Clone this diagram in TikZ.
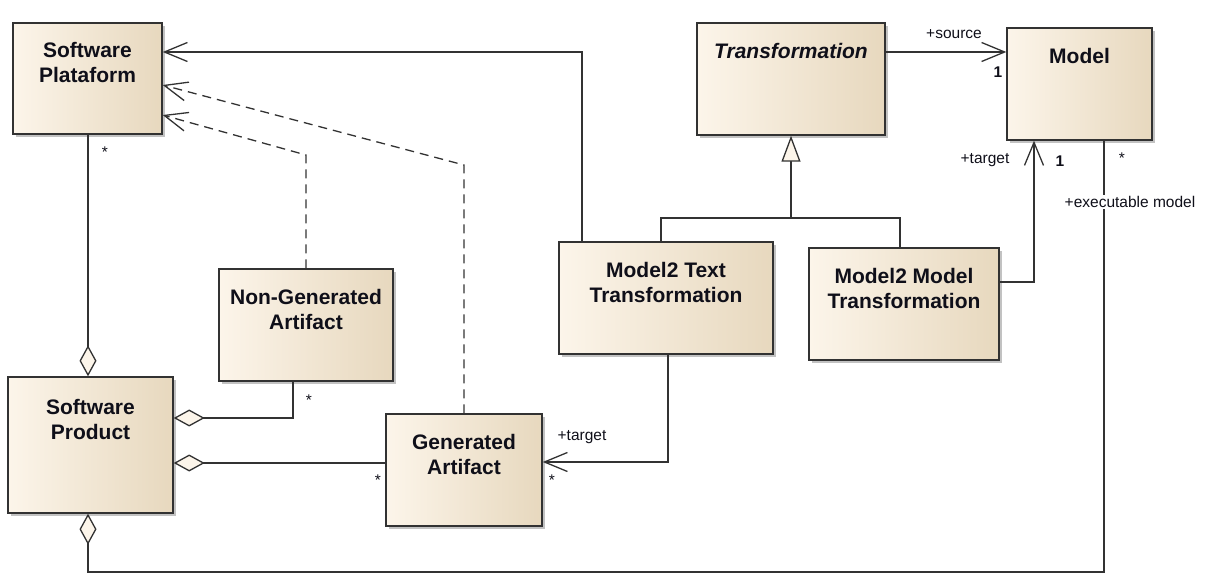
\documentclass[tikz,border=0pt]{standalone}
\usepackage{fontspec}
\setmainfont{Liberation Sans}
\usetikzlibrary{arrows.meta,positioning,shadows}
\definecolor{boxL}{RGB}{252,245,234}
\definecolor{boxR}{RGB}{231,216,190}
\definecolor{umlline}{RGB}{50,50,50}
\definecolor{umltext}{RGB}{15,15,25}
\tikzset{
  umlclass/.style={draw=umlline,line width=1.4pt,left color=boxL,right color=boxR,
    drop shadow={shadow xshift=3pt,shadow yshift=-3pt,opacity=0.4,fill=black!60}},
  classname/.style={inner sep=0pt,align=center,text=umltext,
    font=\bfseries\fontsize{21}{25}\selectfont},
  rolelabel/.style={inner sep=0pt,text=umltext,font=\fontsize{15.5}{18}\selectfont},
  conn/.style={draw=umlline,line width=1.3pt},
  assoc/.style={conn,-{Straight Barb[length=23pt,width=19pt]}},
  realize/.style={assoc,dash pattern=on 9pt off 6pt},
  aggr/.style={conn,{Diamond[length=31pt,width=17pt,fill=boxL]}-},
  inherit/.style={conn,-{Triangle[length=26pt,width=19pt,fill=boxL]}}
}
\begin{document}
\begin{tikzpicture}[x=1pt,y=-1pt]
			\useasboundingbox (0,0) rectangle (1219,585);
			\node[umlclass,minimum width=149pt,minimum height=111pt](plat) at (87.5,78.5) {};
			\node[umlclass,minimum width=188pt,minimum height=112pt](trans) at (791,79) {};
			\node[umlclass,minimum width=145pt,minimum height=112pt](model) at (1079.5,84) {};
			\node[umlclass,minimum width=174pt,minimum height=112pt](nongen) at (306,325) {};
			\node[umlclass,minimum width=165pt,minimum height=136pt](product) at (90.5,445) {};
			\node[umlclass,minimum width=156pt,minimum height=112pt](gen) at (464,470) {};
			\node[umlclass,minimum width=214pt,minimum height=112pt](m2t) at (666,298) {};
			\node[umlclass,minimum width=190pt,minimum height=112pt](m2m) at (904,304) {};
			\node[classname](platname)[below=20pt of plat.north] {Software\\Plataform};
			\node[classname](transname)[below=21pt of trans.north] {\itshape Transformation};
			\node[classname](modelname)[below=21pt of model.north] {Model};
			\node[classname](nongenname)[below=21pt of nongen.north] {Non-Generated\\Artifact};
			\node[classname](productname)[below=23pt of product.north] {Software\\Product};
			\node[classname](genname)[below=21pt of gen.north] {Generated\\Artifact};
			\node[classname](m2tname)[below=21pt of m2t.north] {Model2 Text\\Transformation};
			\node[classname](m2mname)[below=21pt of m2m.north] {Model2 Model\\Transformation};
			\coordinate (genjoin) at (791,218);
			\coordinate (execcorner) at (1104,572);
			\draw[assoc] (m2t.north -| 582,0) |- (plat.east |- 0,52);
			\draw[realize] (nongen.north) -- (nongen.north |- 0,155) -- (plat.east |- 0,115);
			\draw[realize] (gen.north) -- (gen.north |- 0,165) -- (plat.east |- 0,85);
			\draw[aggr] (product.north -| 88,0) -- (plat.south -| 88,0);
			\draw[aggr] (product.east |- 0,418) -| (nongen.south -| 293,0);
			\draw[aggr] (product.east |- 0,463) -- (gen.west |- 0,463);
			\draw[aggr] (product.south -| 88,0) |- (execcorner) -- (model.south -| execcorner);
			\draw[assoc] (m2t.south -| 668,0) |- (gen.east |- 0,462);
			\draw[conn] (m2t.north -| 661,0) |- (genjoin) -| (m2m.north -| 900,0);
			\draw[inherit] (genjoin) -- (trans.south);
			\draw[assoc] (m2m.east |- 0,282) -| (model.south -| 1034,0);
			\draw[assoc] (trans.east |- 0,52) -- (model.west |- 0,52);
			\node[rolelabel](srclabel) at (954,34) {+source};
			\node[rolelabel](srcmult) at (998,72) {\bfseries 1};
			\node[rolelabel](tgtlabel) at (985,160) {+target};
			\node[rolelabel](tgtmult) at (1060,161) {\bfseries 1};
			\node[rolelabel](execmult) at (1122,158) {*};
			\node[rolelabel,fill=white,inner sep=1pt](execlabel) at (1130,202) {+executable model};
			\node[rolelabel](platmult) at (105,152) {*};
			\node[rolelabel](nongenmult) at (309,400) {*};
			\node[rolelabel](genleftmult) at (378,480) {*};
			\node[rolelabel](genrightmult) at (552,480) {*};
			\node[rolelabel](gentgtlabel) at (582,437) {+target};
\end{tikzpicture}
\end{document}
